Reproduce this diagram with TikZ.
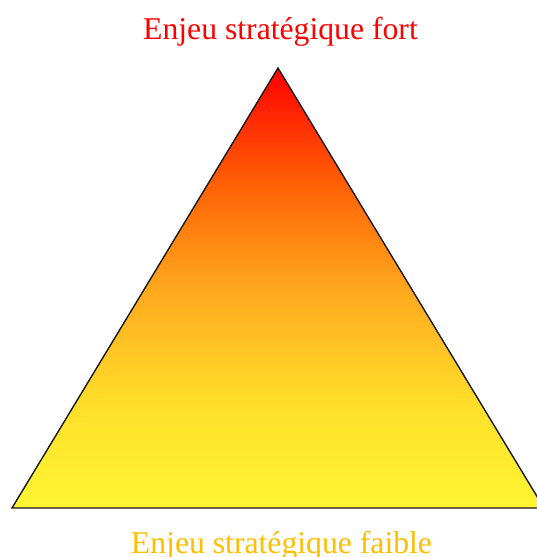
\documentclass[tikz,border=0pt]{standalone}
\usepackage{fontspec}
\setmainfont{Liberation Serif}
\usepackage{xcolor}
\definecolor{strongred}{RGB}{255,0,0}
\definecolor{weakgold}{RGB}{255,190,0}
\definecolor{stakeA}{RGB}{255,246,50}
\definecolor{stakeB}{RGB}{255,222,42}
\definecolor{stakeC}{RGB}{255,168,30}
\definecolor{stakeD}{RGB}{255,95,5}
\definecolor{stakeE}{RGB}{255,0,0}
\pgfdeclareverticalshading{stakes}{100bp}{%
  color(0bp)=(stakeA);
  color(25bp)=(stakeA);
  color(37bp)=(stakeB);
  color(50bp)=(stakeC);
  color(62bp)=(stakeD);
  color(75bp)=(stakeE);
  color(100bp)=(stakeE)}
\tikzset{
  label/.style={font=\fontsize{31.7}{36}\selectfont, anchor=base, inner sep=0pt},
  pyramid/.style={draw=black!90, line width=1.4pt, line join=miter, shading=stakes},
}
\begin{document}
\begin{tikzpicture}[x=1pt, y=-1pt]
  \useasboundingbox (0,0) rectangle (536,557);
  % Triangle corners
  \coordinate (apex) at (278,68);
  \coordinate (baseL) at (12,508);
  \coordinate (baseR) at (544,508);
  % Pyramid
  \shade[pyramid] (apex) -- (baseL) -- (baseR) -- cycle;
  % Labels
  \node[label, text=strongred] (fort) at (280.5,39) {Enjeu stratégique fort};
  \node[label, text=weakgold] (faible) at (281.5,553) {Enjeu stratégique faible};
\end{tikzpicture}
\end{document}
